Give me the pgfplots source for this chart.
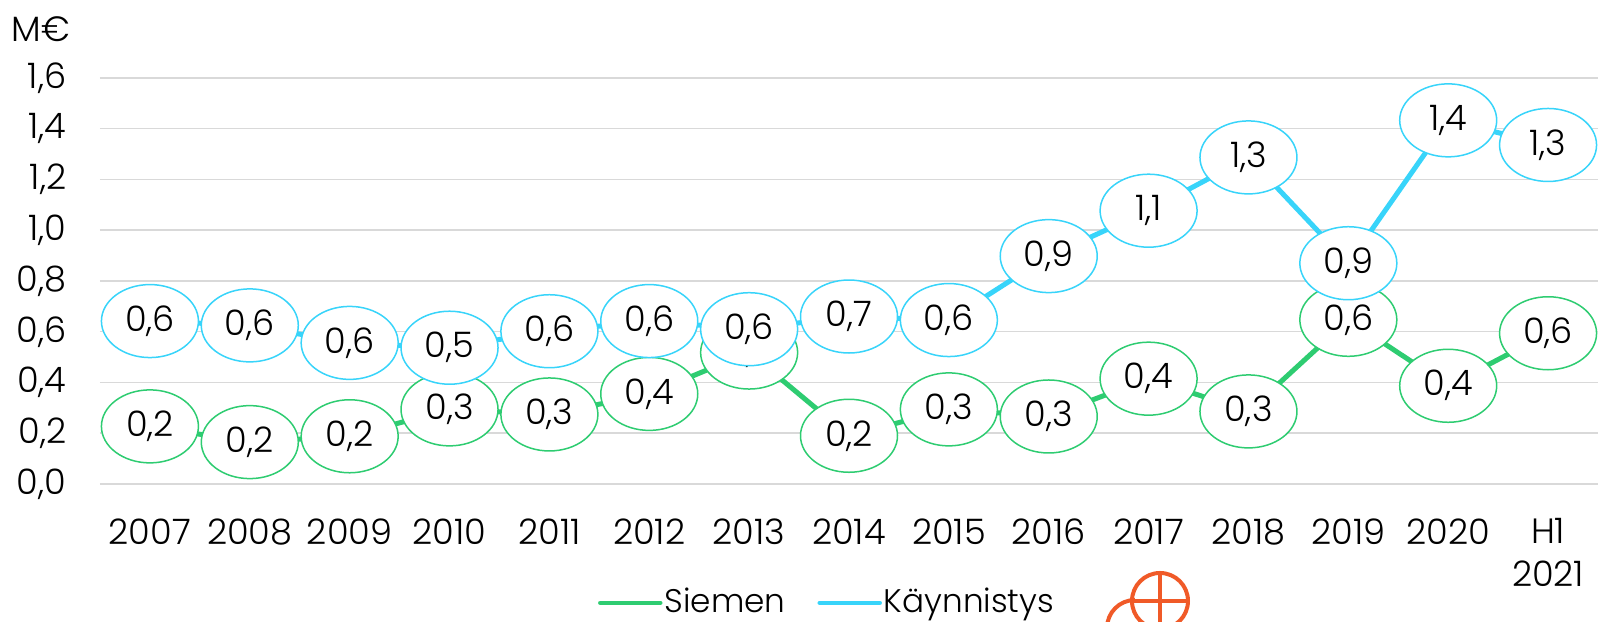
\documentclass[border=0pt]{standalone}
\usepackage{fontspec}
\IfFontExistsTF{Poppins Light}{\setmainfont{Poppins Light}}{\setmainfont{Poppins}}
\usepackage{pgfplots}
\pgfplotsset{compat=1.18}
\usetikzlibrary{shapes.geometric}
\definecolor{siemen}{RGB}{46,204,113}
\definecolor{kaynn}{RGB}{56,212,250}
\definecolor{gridgray}{RGB}{217,217,217}
\definecolor{logo}{RGB}{240,90,40}
\newcommand\lbl{\fontsize{10pt}{12.2pt}\selectfont}
\newcommand\leg{\fontsize{9.3pt}{11pt}\selectfont}

\begin{document}
\begin{tikzpicture}
\path[use as bounding box] (-10mm,-13.8mm) rectangle (151.3mm,48.4mm);
\begin{axis}[
    at={(0,0)}, anchor=south west,
    scale only axis,
    width=149.8mm, height=40.6mm,
    xmin=-0.5, xmax=14.5,
    ymin=0, ymax=1.6,
    clip=false,
    axis line style={draw=none},
    major tick length=0pt,
    ymajorgrids=true,
    grid style={gridgray, line width=0.15mm},
    ytick={0,0.2,0.4,0.6,0.8,1.0,1.2,1.4,1.6},
    xtick={0,...,14},
    xticklabels={2007,2008,2009,2010,2011,2012,2013,2014,2015,2016,2017,2018,2019,2020,{H1\\2021}},
    yticklabel style={font=\lbl, anchor=east, inner sep=0pt, xshift=-3.3mm,
        /pgf/number format/.cd, fixed, fixed zerofill, precision=1, use comma, assume math mode=true},
    xticklabel style={font=\lbl, anchor=north, inner sep=0pt, yshift=-3.4mm, align=center},
    point meta=explicit symbolic,
    nodes near coords,
    legend style={at={(0.332,-0.293)}, anchor=west, draw=none, fill=none,
        inner sep=0pt, legend columns=2,
        /tikz/every even column/.append style={column sep=3.0mm},
        nodes={inner sep=0.2mm, font=\leg}},
    legend image code/.code={\draw[#1, line width=0.45mm, line cap=round] (0mm,0mm) -- (6mm,0mm);},
]
\addplot[siemen, line width=0.5mm, mark=none,
    nodes near coords style={ellipse, draw=siemen, line width=0.15mm, fill=white, text=black,
        minimum width=9.7mm, minimum height=7.3mm, inner sep=0pt, anchor=center, font=\lbl}]
coordinates {
(0,0.227) [0,2]
(1,0.165) [0,2]
(2,0.188) [0,2]
(3,0.294) [0,3]
(4,0.274) [0,3]
(5,0.355) [0,4]
(6,0.518) [0,5]
(7,0.190) [0,2]
(8,0.294) [0,3]
(9,0.266) [0,3]
(10,0.415) [0,4]
(11,0.286) [0,3]
(12,0.647) [0,6]
(13,0.387) [0,4]
(14,0.594) [0,6]
};
\addlegendentry{Siemen}
\addplot[kaynn, line width=0.5mm, mark=none,
    nodes near coords style={ellipse, draw=kaynn, line width=0.15mm, fill=white, text=black,
        minimum width=9.7mm, minimum height=7.3mm, inner sep=0pt, anchor=center, font=\lbl}]
coordinates {
(0,0.642) [0,6]
(1,0.625) [0,6]
(2,0.556) [0,6]
(3,0.537) [0,5]
(4,0.602) [0,6]
(5,0.642) [0,6]
(6,0.610) [0,6]
(7,0.660) [0,7]
(8,0.646) [0,6]
(9,0.898) [0,9]
(10,1.077) [1,1]
(11,1.287) [1,3]
(12,0.870) [0,9]
(13,1.433) [1,4]
(14,1.336) [1,3]
};
\addlegendentry{Käynnistys}
\end{axis}
\node[anchor=east, font=\lbl, inner sep=0pt] at (-2.9mm,45.5mm) {M€};
\draw[logo, line width=0.4mm] (106mm,-11.7mm) circle (2.8mm);
\draw[logo, line width=0.4mm] (106mm,-8.9mm) -- (106mm,-14.5mm);
\draw[logo, line width=0.4mm] (103.2mm,-11.7mm) -- (108.8mm,-11.7mm);
\draw[logo, line width=0.4mm] (103.5mm,-11.6mm) arc (90:180:2.8mm);
\end{tikzpicture}
\end{document}
